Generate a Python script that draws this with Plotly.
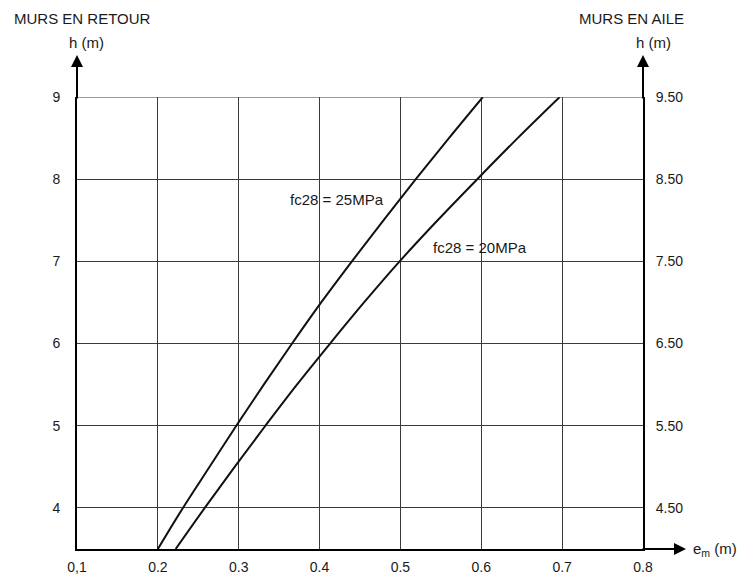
import plotly.graph_objects as go

# ---- data ----
h_vals = [3.5, 4.0, 4.5, 5.0, 5.5, 6.0, 6.5, 7.0, 7.5, 8.0, 8.5, 9.0]
e_25mpa = [0.200, 0.231, 0.264, 0.297, 0.331, 0.366, 0.402, 0.440, 0.479, 0.519, 0.560, 0.602]
e_20mpa = [0.222, 0.258, 0.295, 0.333, 0.372, 0.413, 0.455, 0.499, 0.546, 0.595, 0.645, 0.697]

x_ticks = [0.1, 0.2, 0.3, 0.4, 0.5, 0.6, 0.7, 0.8]
x_ticktext = ["0,1", "0.2", "0.3", "0.4", "0.5", "0.6", "0.7", "0.8"]
left_ticks = [4, 5, 6, 7, 8, 9]
right_ticks = [4.5, 5.5, 6.5, 7.5, 8.5, 9.5]
right_ticktext = ["4.50", "5.50", "6.50", "7.50", "8.50", "9.50"]

FONT = "Liberation Sans, Arial, sans-serif"
TXT = "#1a1a1a"
GRID = "#3a3a3a"

fig = go.Figure()
fig.add_trace(go.Scatter(x=e_25mpa, y=h_vals, mode="lines",
                         line=dict(color="#111", width=2), line_shape="spline",
                         showlegend=False, hoverinfo="skip"))
fig.add_trace(go.Scatter(x=e_20mpa, y=h_vals, mode="lines",
                         line=dict(color="#111", width=2), line_shape="spline",
                         showlegend=False, hoverinfo="skip"))
# invisible trace to activate right axis
fig.add_trace(go.Scatter(x=[0.1], y=[9.5], yaxis="y2", mode="markers",
                         marker=dict(opacity=0), showlegend=False, hoverinfo="skip"))

L, R, T, B = 77, 101, 97, 27
W, H = 744, 576
pw, ph = W - L - R, H - T - B

def px(xp):
    return (xp - L) / pw

def py(yp):
    return (H - B - yp) / ph

fig.update_layout(
    width=W, height=H,
    margin=dict(l=L, r=R, t=T, b=B, autoexpand=False),
    paper_bgcolor="white", plot_bgcolor="white",
    font=dict(family=FONT, size=14, color=TXT),
    xaxis=dict(range=[0.1, 0.8], tickvals=x_ticks, ticktext=x_ticktext,
               showgrid=True, gridcolor=GRID, gridwidth=1,
               showline=True, linecolor="#000", linewidth=2,
               ticks="", ticklabelstandoff=4, zeroline=False,
               tickfont=dict(size=14, color=TXT)),
    yaxis=dict(range=[3.5, 9.0], tickvals=left_ticks,
               showgrid=True, gridcolor=GRID, gridwidth=1,
               showline=True, linecolor="#000", linewidth=2,
               ticks="", ticklabelstandoff=12, zeroline=False,
               tickfont=dict(size=14, color=TXT)),
    yaxis2=dict(range=[4.0, 9.5], overlaying="y", side="right",
                tickvals=right_ticks, ticktext=right_ticktext,
                showgrid=False, showline=True, linecolor="#000", linewidth=2,
                ticks="", ticklabelstandoff=8, zeroline=False,
                tickfont=dict(size=14, color=TXT)),
)

# top border line at h = 9
fig.add_shape(type="line", xref="x", yref="y", x0=0.1, x1=0.8, y0=9, y1=9,
              line=dict(color=GRID, width=1))

# axis arrows
def arrow(x, y, ax, ay):
    fig.add_annotation(x=x, y=y, xref="paper", yref="paper", ax=ax, ay=ay,
                       axref="pixel", ayref="pixel", text="", showarrow=True,
                       arrowhead=2, arrowsize=1.2, arrowwidth=2, arrowcolor="#000")

arrow(px(77), py(55), 0, 45)
arrow(px(643), py(55), 0, 45)
arrow(px(686), py(549), -45, 0)

def label(text, xp, yp, xanchor="center", size=14):
    fig.add_annotation(x=px(xp), y=py(yp), xref="paper", yref="paper", text=text,
                       showarrow=False, xanchor=xanchor, yanchor="middle",
                       font=dict(family=FONT, size=size, color=TXT))

label("MURS EN RETOUR", 12, 18, "left", 15)
label("h (m)", 86, 43, "center", 15)
label("MURS EN AILE", 686, 18, "right", 15)
label("h (m)", 653, 43, "center", 15)
label("e<sub>m</sub> (m)", 691, 549, "left", 15)

# curve labels
fig.add_annotation(x=0.422, y=7.747, xref="x", yref="y", text="fc28 = 25MPa",
                   showarrow=False, font=dict(family=FONT, size=15, color=TXT))
fig.add_annotation(x=0.598, y=7.163, xref="x", yref="y", text="fc28 = 20MPa",
                   showarrow=False, font=dict(family=FONT, size=15, color=TXT))

fig.write_html("out.html", config={"displayModeBar": False},
               post_script="document.body.style.margin='0';document.body.style.overflow='hidden';")
